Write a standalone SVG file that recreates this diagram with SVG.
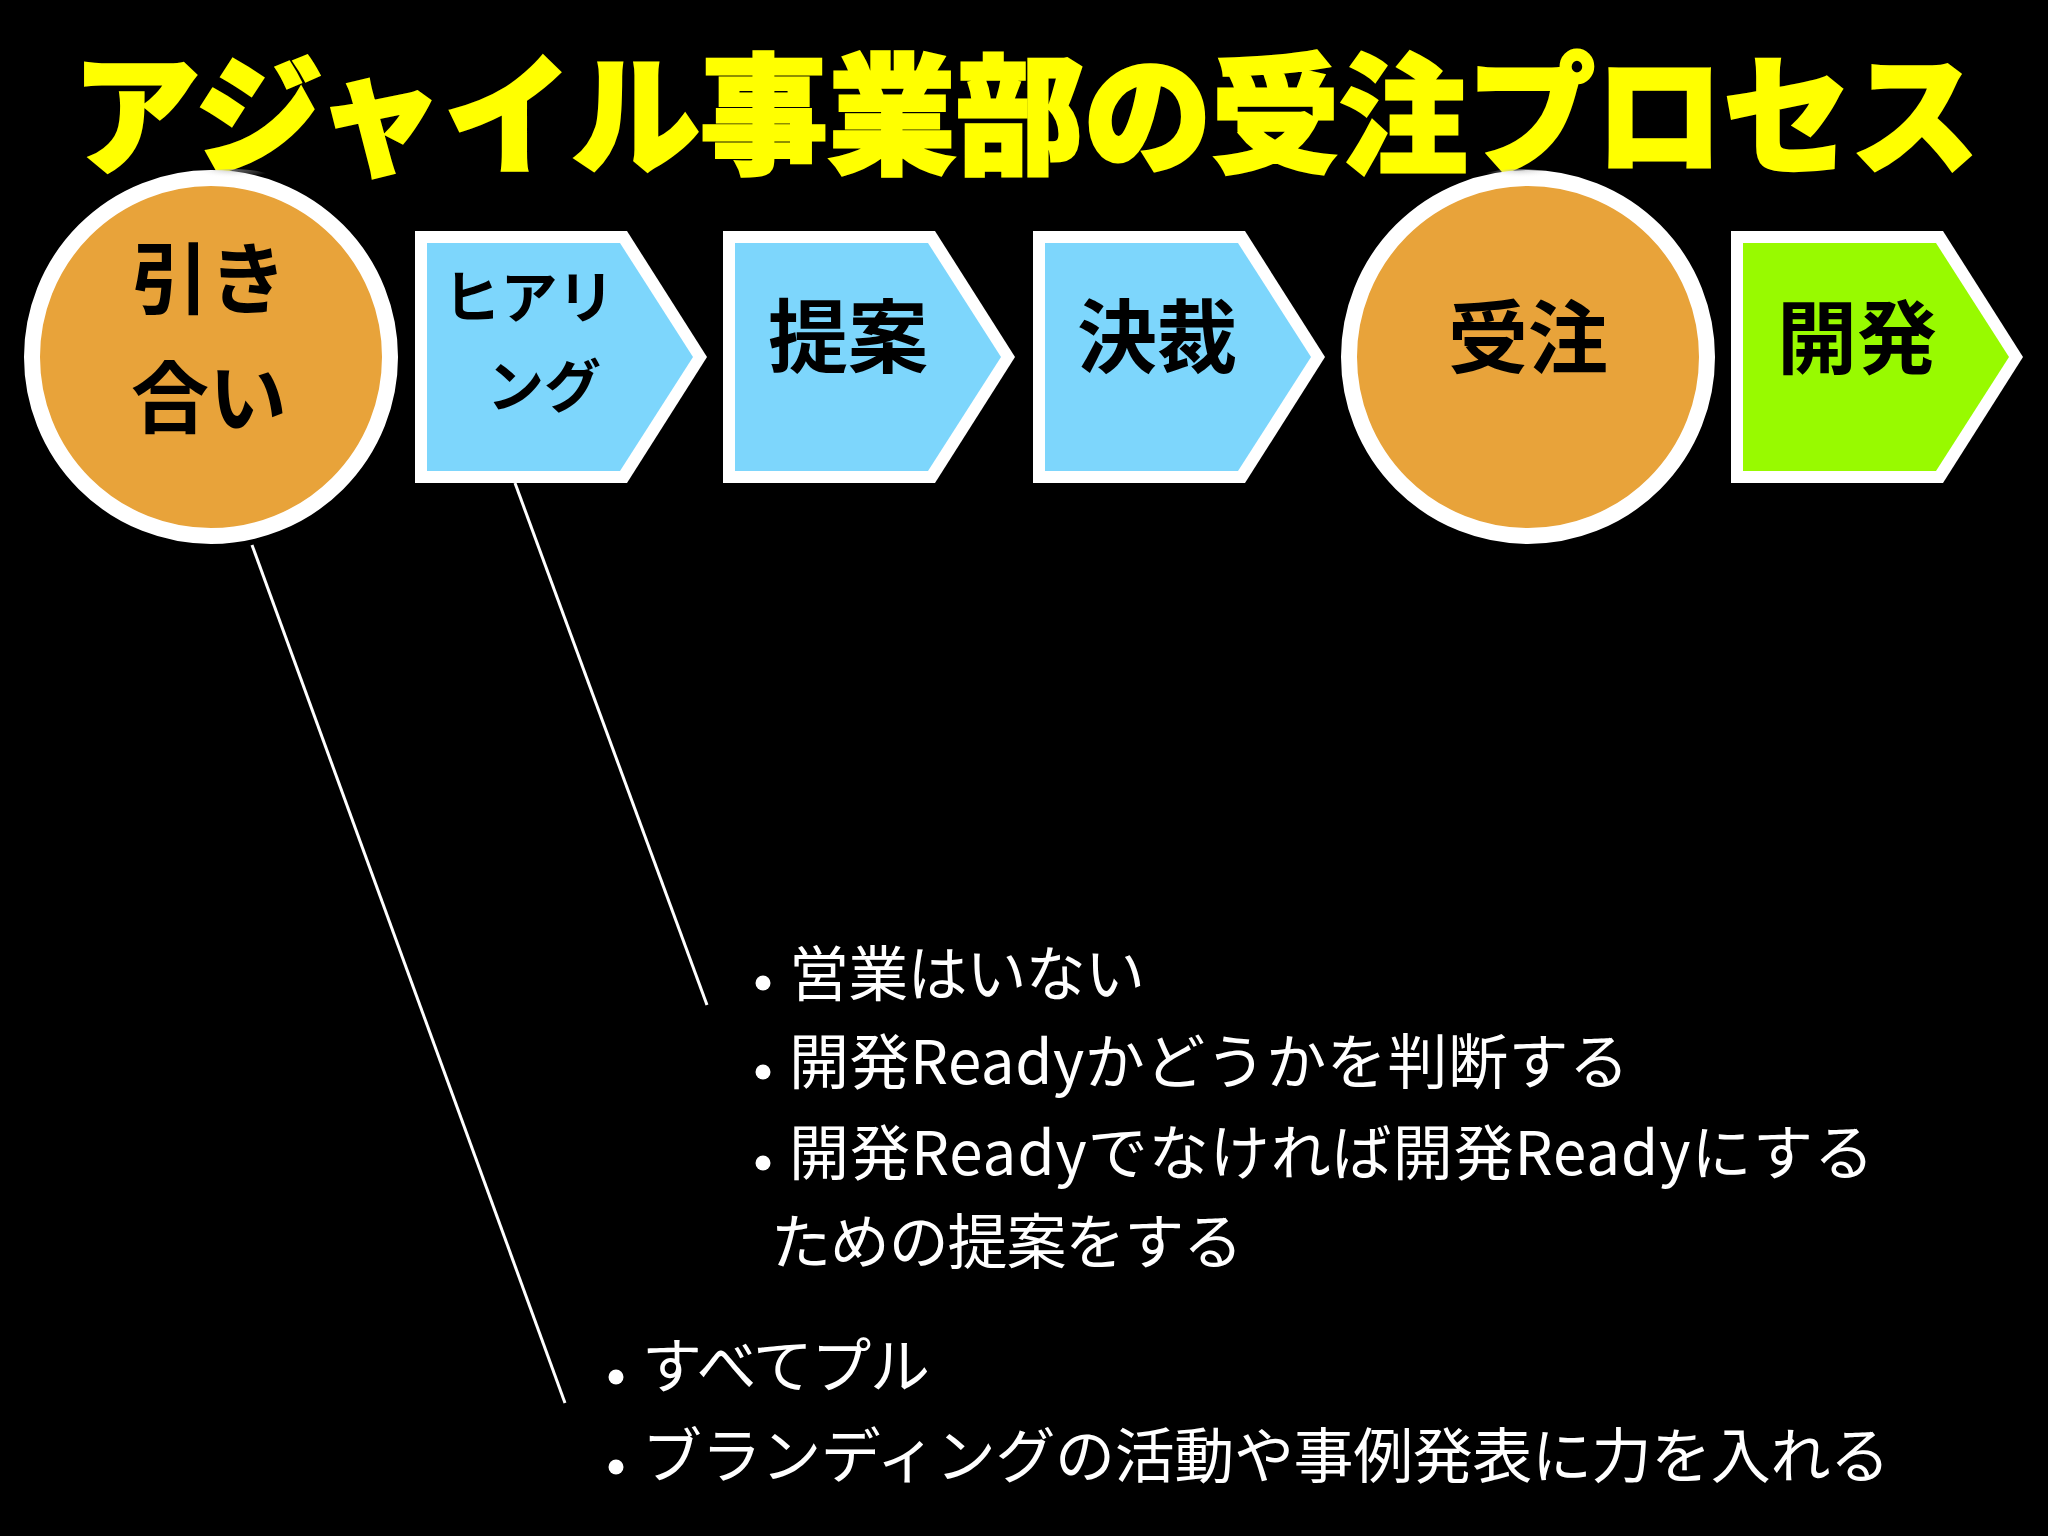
<svg xmlns="http://www.w3.org/2000/svg" width="2048" height="1536" viewBox="0 0 2048 1536">
<style>
.jp{font-family:"Noto Sans CJK JP","Noto Sans CJK SC",sans-serif}
.title{font-size:130px;font-weight:900;fill:#FFFF00;stroke:#FFFF00;stroke-width:3}
.lbl{font-size:80px;font-weight:700;fill:#000;text-anchor:middle}
.lbl2{font-size:78px;font-weight:700;fill:#000;text-anchor:middle}
.lbl3{font-size:57px;font-weight:700;fill:#000;text-anchor:middle}
.body{font-size:60px;font-weight:400;fill:#fff}
.circ{fill:#E8A33A;stroke:#fff;stroke-width:16}
.blue{fill:#7DD6FC}
.green{fill:#98FA00}
.conn{stroke:#fff;stroke-width:3;fill:none}
.dot{fill:#fff}
</style>
<defs>
<polygon id="outer" points="0,0 212,0 292,126 212,252 0,252" fill="#fff"/>
<polygon id="inner" points="12,12 205,12 278,126 205,240 12,240"/>
<radialGradient id="sh" cx="0.5" cy="0" r="0.5">
<stop offset="0" stop-color="#999"/>
<stop offset="1" stop-color="#fff" stop-opacity="0"/>
</radialGradient>
</defs>
<rect width="2048" height="1536" fill="#000"/>
<g id="title">
<text class="jp title" x="72" y="106" dominant-baseline="central" textLength="1907" lengthAdjust="spacingAndGlyphs">アジャイル事業部の受注プロセス</text>
</g>
<g id="connectors">
<line class="conn" x1="252" y1="545" x2="565" y2="1403"/>
<line class="conn" x1="515" y1="483" x2="707" y2="1005"/>
</g>
<g id="node-hikiai">
<circle class="circ" cx="211" cy="357" r="179"/>
<ellipse cx="232" cy="178" rx="40" ry="9" fill="url(#sh)" opacity="0.6"/>
<text class="jp lbl2" x="209" y="274" dominant-baseline="central">引き</text>
<text class="jp lbl2" x="209" y="393" dominant-baseline="central">合い</text>
</g>
<g id="node-hearing" transform="translate(415,231)">
<use href="#outer"/>
<use href="#inner" class="blue"/>
<text class="jp lbl3" x="114" y="62" dominant-baseline="central">ヒアリ</text>
<text class="jp lbl3" x="129" y="151" dominant-baseline="central">ング</text>
</g>
<g id="node-teian" transform="translate(723,231)">
<use href="#outer"/>
<use href="#inner" class="blue"/>
<text class="jp lbl" x="125" y="100" dominant-baseline="central">提案</text>
</g>
<g id="node-kessai" transform="translate(1033,231)">
<use href="#outer"/>
<use href="#inner" class="blue"/>
<text class="jp lbl" x="124" y="100" dominant-baseline="central">決裁</text>
</g>
<g id="node-juchu">
<circle class="circ" cx="1528" cy="357" r="179"/>
<ellipse cx="1520" cy="178" rx="40" ry="9" fill="url(#sh)" opacity="0.6"/>
<text class="jp lbl" x="1528" y="332" dominant-baseline="central">受注</text>
</g>
<g id="node-kaihatsu" transform="translate(1731,231)">
<use href="#outer"/>
<use href="#inner" class="green"/>
<text class="jp lbl" x="126" y="101" dominant-baseline="central">開発</text>
</g>
<g id="notes-hearing">
<circle class="dot" cx="763" cy="983" r="7.5"/>
<circle class="dot" cx="763" cy="1072" r="7.5"/>
<circle class="dot" cx="763" cy="1163" r="7.5"/>
<text class="jp body" x="789" y="969" dominant-baseline="central" textLength="356" lengthAdjust="spacing">営業はいない</text>
<text class="jp body" x="789" y="1057" dominant-baseline="central" textLength="840" lengthAdjust="spacing">開発Readyかどうかを判断する</text>
<text class="jp body" x="789" y="1148" dominant-baseline="central" textLength="1085" lengthAdjust="spacing">開発Readyでなければ開発Readyにする</text>
<text class="jp body" x="771" y="1237" dominant-baseline="central" textLength="472" lengthAdjust="spacing">ための提案をする</text>
</g>
<g id="notes-hikiai">
<circle class="dot" cx="616" cy="1377" r="7.5"/>
<circle class="dot" cx="616" cy="1467" r="7.5"/>
<text class="jp body" x="642" y="1361" dominant-baseline="central" textLength="288" lengthAdjust="spacing">すべてプル</text>
<text class="jp body" x="642" y="1451" dominant-baseline="central" textLength="1248" lengthAdjust="spacing">ブランディングの活動や事例発表に力を入れる</text>
</g>
</svg>
